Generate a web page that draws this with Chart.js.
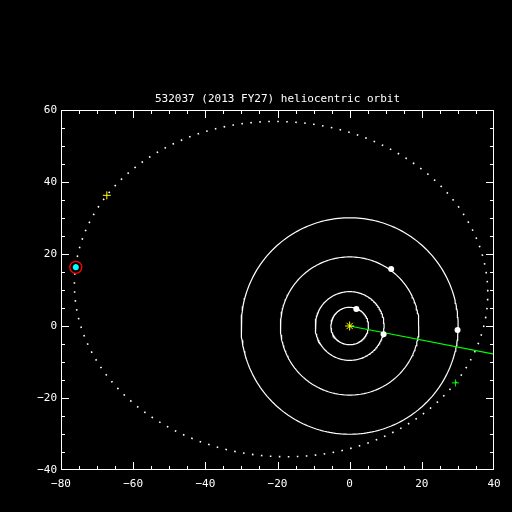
<!DOCTYPE html>
<html>
<head>
<meta charset="utf-8">
<script src="https://cdn.jsdelivr.net/npm/chart.js"></script>
<style>
  html, body { margin: 0; padding: 0; background: #000; }
</style>
</head>
<body>
<canvas id="orbit" width="512" height="512"></canvas>
<script>
const title = "532037 (2013 FY27) heliocentric orbit"
const xRange = [-80, 40]
const yRange = [-40, 60]

// planet orbits (AU): Jupiter, Saturn, Uranus, Neptune
const planetRadii = [5.2, 9.54, 19.19, 30.07]
const planetX = [1.85, 9.4, 11.5, 29.9]
const planetY = [4.7, -2.3, 15.8, -1.1]

// object orbit projected on the ecliptic
const perihelion = [29.3, -15.8]
const aphelion = [-67.3, 36.3]
const minorAxis = [30.8, 38.6]
const objectPos = [-75.9, 16.3]
const sunPos = [0, 0]
const lineEnd = [40, -7.8]

const circlePts = r => {
  const pts = []
  for (let i = 0; i <= 240; i++) {
    const t = (i / 240) * 2 * Math.PI
    pts.push({ x: r * Math.cos(t), y: r * Math.sin(t) })
  }
  return pts
}

const orbitPts = () => {
  const cx = (perihelion[0] + aphelion[0]) / 2
  const cy = (perihelion[1] + aphelion[1]) / 2
  const px = perihelion[0] - cx
  const py = perihelion[1] - cy
  const pts = []
  for (let i = 0; i <= 400; i++) {
    const E = (i / 400) * 2 * Math.PI
    pts.push({
      x: cx + Math.cos(E) * px + Math.sin(E) * minorAxis[0],
      y: cy + Math.cos(E) * py + Math.sin(E) * minorAxis[1],
    })
  }
  return pts
}

const fmt = v => (v < 0 ? "\u2212" + Math.abs(v) : String(v))
const tickFont = { family: "DejaVu Sans Mono", size: 11 }

const frameTicks = {
  id: "frameTicks",
  afterDatasetsDraw(chart) {
    const { ctx, chartArea: a, scales: { x, y } } = chart
    const clampX = p => Math.min(Math.max(p, a.left + 0.5), a.right - 0.5)
    const clampY = p => Math.min(Math.max(p, a.top + 0.5), a.bottom - 0.5)
    ctx.save()
    ctx.strokeStyle = "#fff"
    ctx.lineWidth = 1
    ctx.strokeRect(a.left + 0.5, a.top + 0.5, a.right - a.left - 1, a.bottom - a.top - 1)
    ctx.beginPath()
    for (let v = x.min; v <= x.max; v += 5) {
      const px = clampX(Math.round(x.getPixelForValue(v)) + 0.5)
      const len = v % 20 === 0 ? 8 : 4
      ctx.moveTo(px, a.bottom); ctx.lineTo(px, a.bottom - len)
      ctx.moveTo(px, a.top); ctx.lineTo(px, a.top + len)
    }
    for (let v = y.min; v <= y.max; v += 5) {
      const py = clampY(Math.round(y.getPixelForValue(v)) + 0.5)
      const len = v % 20 === 0 ? 8 : 4
      ctx.moveTo(a.left, py); ctx.lineTo(a.left + len, py)
      ctx.moveTo(a.right, py); ctx.lineTo(a.right - len, py)
    }
    ctx.stroke()
    ctx.fillStyle = "#fff"
    ctx.font = '11px "DejaVu Sans Mono"'
    ctx.textAlign = "center"
    ctx.textBaseline = "middle"
    ctx.fillText(title, (a.left + a.right) / 2, a.top - 11)
    ctx.restore()
  },
}

const pt = (px, py) => [{ x: px, y: py }]

new Chart(document.getElementById("orbit"), {
  type: "scatter",
  data: {
    datasets: [
      { data: pt(...objectPos), pointRadius: 3, backgroundColor: "#0ff", borderWidth: 0 },
      { data: pt(...objectPos), pointRadius: 6, backgroundColor: "rgba(0,0,0,0)", borderColor: "#f00", borderWidth: 1.3 },
      { data: planetX.map((v, i) => ({ x: v, y: planetY[i] })), pointRadius: 3, backgroundColor: "#fff", borderWidth: 0 },
      { data: pt(...sunPos), pointStyle: "star", pointRadius: 4.5, borderColor: "#ff0", borderWidth: 1 },
      { data: pt(...aphelion), pointStyle: "cross", pointRadius: 4, borderColor: "#ff0", borderWidth: 1 },
      { data: pt(...perihelion), pointStyle: "cross", pointRadius: 3.5, borderColor: "#0f0", borderWidth: 1 },
      { data: [{ x: sunPos[0], y: sunPos[1] }, { x: lineEnd[0], y: lineEnd[1] }], showLine: true, pointRadius: 0, borderColor: "#0f0", borderWidth: 1.2 },
      { data: orbitPts(), showLine: true, pointRadius: 0, borderColor: "#fff", borderWidth: 1.6, borderDash: [1.6, 7.4] },
      ...planetRadii.map(r => ({ data: circlePts(r), showLine: true, pointRadius: 0, borderColor: "#fff", borderWidth: 1.2 })),
    ],
  },
  options: {
    responsive: false,
    animation: false,
    events: [],
    layout: { padding: { top: 110, right: 18, left: 0, bottom: 0 } },
    plugins: { legend: { display: false }, tooltip: { enabled: false } },
    scales: {
      x: {
        type: "linear",
        min: xRange[0],
        max: xRange[1],
        grid: { display: false, drawTicks: false },
        border: { display: false },
        ticks: { stepSize: 20, color: "#fff", font: tickFont, padding: 8, maxRotation: 0, callback: fmt },
        afterFit: s => { s.height = 42 },
      },
      y: {
        type: "linear",
        min: yRange[0],
        max: yRange[1],
        grid: { display: false, drawTicks: false },
        border: { display: false },
        ticks: { stepSize: 20, color: "#fff", font: tickFont, padding: 4, callback: fmt },
        afterFit: s => { s.width = 61 },
      },
    },
  },
  plugins: [frameTicks],
})
</script>
</body>
</html>
